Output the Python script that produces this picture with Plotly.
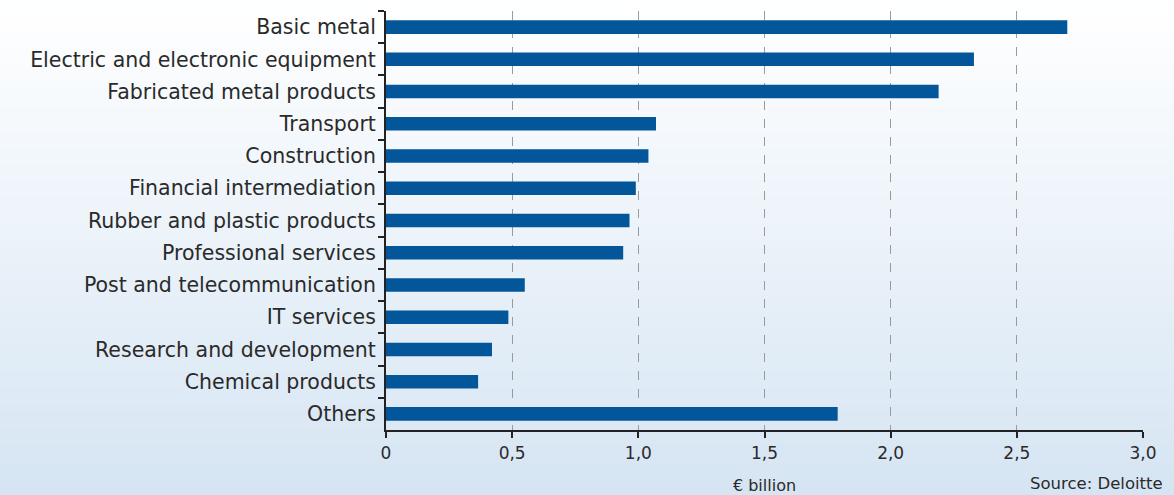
import plotly.graph_objects as go

categories = [
    "Basic metal",
    "Electric and electronic equipment",
    "Fabricated metal products",
    "Transport",
    "Construction",
    "Financial intermediation",
    "Rubber and plastic products",
    "Professional services",
    "Post and telecommunication",
    "IT services",
    "Research and development",
    "Chemical products",
    "Others",
]
values = [2.70, 2.33, 2.19, 1.07, 1.04, 0.99, 0.965, 0.94, 0.55, 0.485, 0.42, 0.365, 1.79]
tick_vals = [0, 0.5, 1.0, 1.5, 2.0, 2.5, 3.0]
tick_text = ["0", "0,5", "1,0", "1,5", "2,0", "2,5", "3,0"]

W, H = 1174, 495
ml, mr, mt, mb = 386, 31, 11, 65
ph = H - mt - mb

FONT = "DejaVu Sans, Liberation Sans, Arial, sans-serif"
TXT = "#2a2a2a"

fig = go.Figure()
fig.add_trace(go.Bar(
    y=categories, x=values, orientation="h",
    marker=dict(color="#03569a", line=dict(width=0)),
    width=0.42,
))

# vertical gradient background
n = 60
top = (255, 255, 255)
bot = (214, 229, 243)
y_top = 1 + mt / ph
y_bot = -mb / ph
shapes = []
for i in range(n):
    t = i / (n - 1)
    c = tuple(round(top[k] + (bot[k] - top[k]) * t) for k in range(3))
    y0 = y_top - (y_top - y_bot) * i / n
    y1 = y_top - (y_top - y_bot) * (i + 1) / n
    shapes.append(dict(type="rect", xref="paper", yref="paper",
                       x0=-ml / (W - ml - mr), x1=1 + mr / (W - ml - mr),
                       y0=y1 - 0.002, y1=y0 + 0.002,
                       fillcolor="rgb(%d,%d,%d)" % c, line=dict(width=0),
                       layer="below"))

fig.update_layout(
    width=W, height=H,
    margin=dict(l=ml, r=mr, t=mt, b=mb, autoexpand=False),
    paper_bgcolor="rgba(0,0,0,0)",
    plot_bgcolor="rgba(0,0,0,0)",
    shapes=shapes,
    showlegend=False,
    font=dict(family=FONT, color=TXT),
)
fig.update_xaxes(
    range=[0, 3.0],
    automargin=False,
    tickvals=tick_vals, ticktext=tick_text,
    showgrid=True, gridcolor="#9a9a9a", griddash="dash", gridwidth=1,
    showline=True, linecolor="#222222", linewidth=2,
    ticks="outside", ticklen=6, tickcolor="#222222", tickwidth=2,
    ticklabelstandoff=1,
    tickfont=dict(size=17, color=TXT, family=FONT),
    zeroline=False,
    title=dict(text="€ billion", font=dict(size=16, color=TXT, family=FONT), standoff=18),
)
fig.update_yaxes(
    autorange=False,
    automargin=False,
    range=[len(categories) - 0.5, -0.5],
    categoryorder="array", categoryarray=categories,
    showline=True, linecolor="#222222", linewidth=2,
    ticks="outside", ticklen=6, tickcolor="#222222", tickwidth=2,
    tickson="boundaries",
    ticklabelstandoff=4,
    tickfont=dict(size=20.5, color=TXT, family=FONT),
    showgrid=False,
)
fig.add_annotation(
    text="Source: Deloitte", xref="paper", yref="paper",
    x=1 + 22 / (W - ml - mr), y=-(483 - (H - mb)) / ph,
    xanchor="right", yanchor="middle", showarrow=False,
    font=dict(size=16.5, color=TXT, family=FONT),
)
fig.write_html("out.html")
